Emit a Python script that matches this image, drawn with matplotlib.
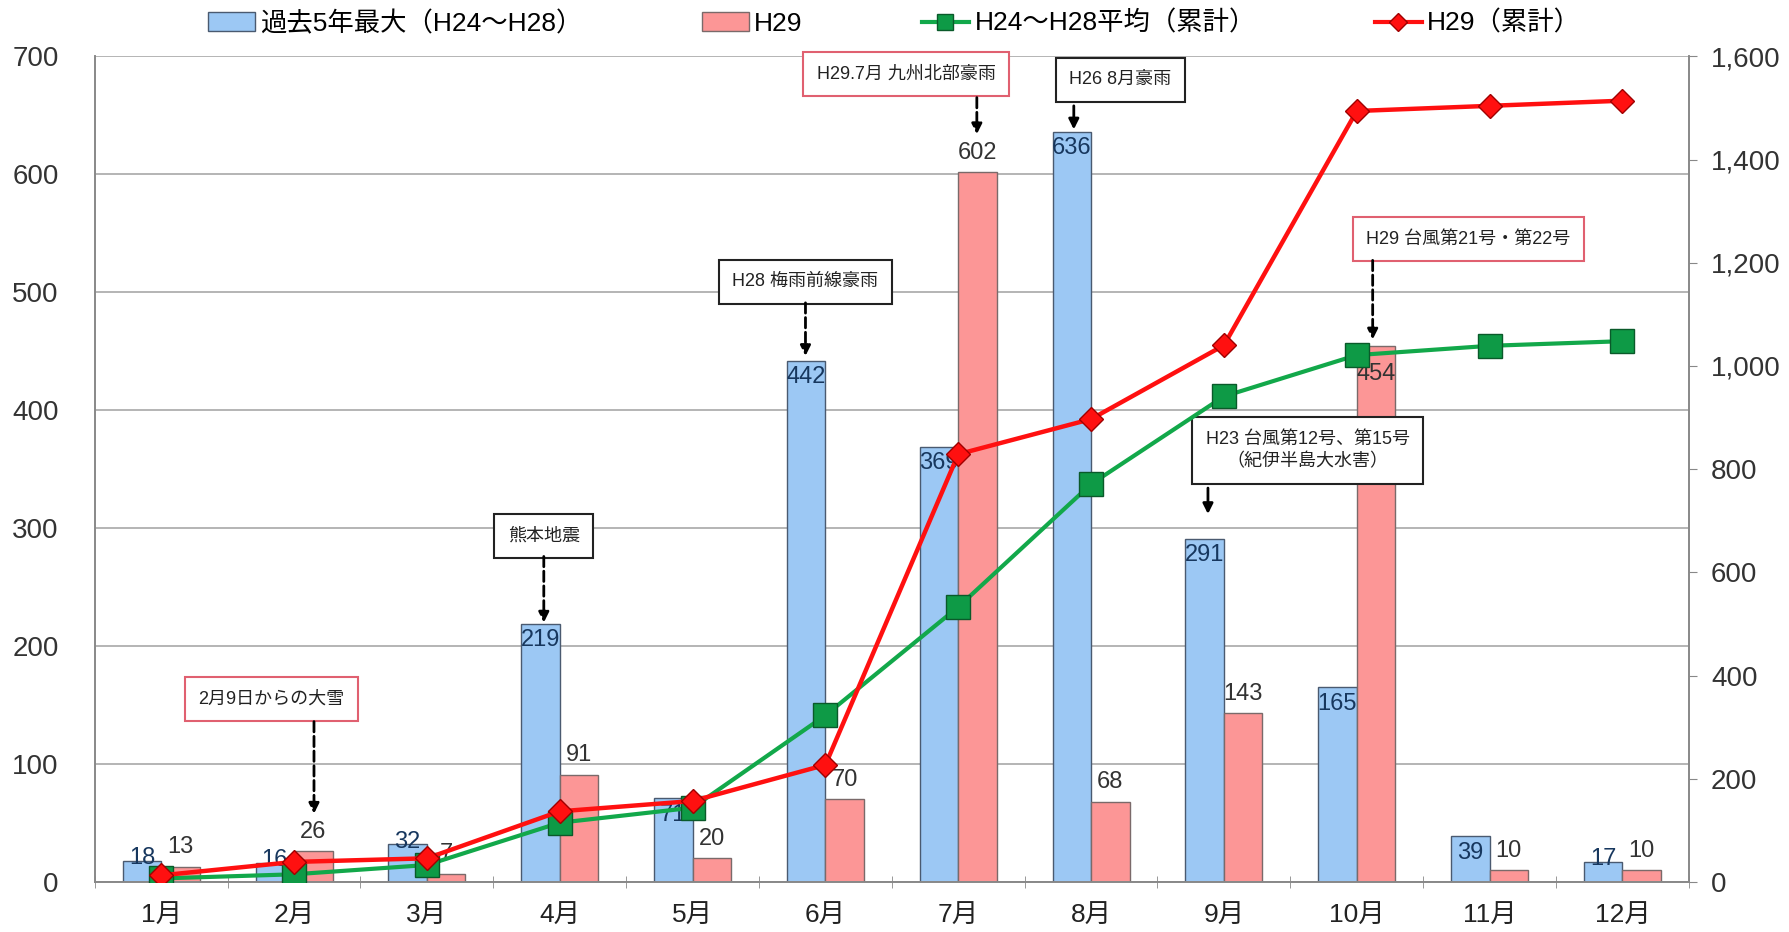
import numpy as np
import matplotlib.pyplot as plt
from matplotlib.patches import Patch
from matplotlib.lines import Line2D
from matplotlib.ticker import FuncFormatter

plt.rcParams['font.family'] = ['Liberation Sans', 'Noto Sans CJK JP', 'DejaVu Sans']

# 月別データ
months = ['1月', '2月', '3月', '4月', '5月', '6月', '7月', '8月', '9月', '10月', '11月', '12月']
max_5yr = [18, 16, 32, 219, 71, 442, 369, 636, 291, 165, 39, 17]      # 過去5年最大(H24~H28)
h29 = [13, 26, 7, 91, 20, 70, 602, 68, 143, 454, 10, 10]              # H29
avg_cum = [7, 15, 33, 115, 144, 323, 533, 771, 941, 1021, 1039, 1048]  # H24~H28平均(累計)
h29_cum = [13, 39, 46, 137, 157, 227, 829, 897, 1040, 1494, 1504, 1514]  # H29(累計)

# 注記: (テキスト, 箱の中心x, 箱の中心y, 矢印x, 矢印の始点y, 終点y, 枠色, 破線か)
notes = [
    ('2月9日からの大雪', 0.83, 155, 1.15, 136, 58, '#E06070', True),
    ('熊本地震', 2.88, 293, 2.88, 276, 220, '#222222', True),
    ('H28 梅雨前線豪雨', 4.85, 509, 4.85, 491, 446, '#222222', True),
    ('H29.7月 九州北部豪雨', 5.61, 685, 6.14, 665, 634, '#E06070', True),
    ('H26 8月豪雨', 7.22, 680, 6.87, 658, 638, '#222222', False),
    ('H29 台風第21号・第22号', 9.84, 545, 9.12, 527, 460, '#E06070', True),
    ('H23 台風第12号、第15号\n（紀伊半島大水害）', 8.63, 366, 7.88, 334, 312, '#222222', False),
]

fig = plt.figure(figsize=(17.89, 9.32), dpi=100)
ax = fig.add_axes([0.053, 0.0536, 0.891, 0.886])
ax2 = ax.twinx()

x = np.arange(len(months))
w = 0.29
ax.bar(x - w / 2, max_5yr, w, color='#9CC8F4', edgecolor='#4A5A70', linewidth=1)
ax.bar(x + w / 2, h29, w, color='#FC9696', edgecolor='#7A6A6A', linewidth=1)

# 棒のラベル
for xi, v in zip(x - w / 2, max_5yr):
    if v >= 35:
        ax.annotate(str(v), (xi, v), xytext=(0, -4), textcoords='offset points',
                    ha='center', va='top', fontsize=17, color='#17375E')
    else:
        ax.annotate(str(v), (xi, v), xytext=(0, 2), textcoords='offset points',
                    ha='center', va='center', fontsize=17, color='#17375E')
for xi, v in zip(x + w / 2, h29):
    if v == 454:
        ax.annotate(str(v), (xi, v), xytext=(0, -12), textcoords='offset points',
                    ha='center', va='top', fontsize=17, color='#333333')
    else:
        ax.annotate(str(v), (xi, v), xytext=(0, 6), textcoords='offset points',
                    ha='center', va='bottom', fontsize=17, color='#333333')

# 累計の折れ線
ax2.plot(x, avg_cum, color='#12A84A', lw=3, marker='s', markersize=17,
         markerfacecolor='#0E9A46', markeredgecolor='#0A5A2A', markeredgewidth=1, zorder=5)
ax2.plot(x, h29_cum, color='#FF1010', lw=3.2, marker='D', markersize=12,
         markerfacecolor='#FF1010', markeredgecolor='#A00000', markeredgewidth=1, zorder=6)

ax.set_xlim(-0.5, 11.5)
ax.set_ylim(0, 700)
ax2.set_ylim(0, 1600)
ax.set_yticks(range(0, 701, 100))
ax2.set_yticks(range(0, 1601, 200))
ax2.yaxis.set_major_formatter(FuncFormatter(lambda v, p: f'{int(v):,}'))
ax.set_xticks(x)
ax.set_xticklabels(months)
ax.set_xticks(np.arange(-0.5, 12, 1), minor=True)
ax.tick_params(axis='x', which='major', length=0, labelsize=19, pad=16, colors='#222222')
ax.tick_params(axis='x', which='minor', length=8, direction='inout', color='#888888')
ax.tick_params(axis='y', length=0, labelsize=20, pad=26, colors='#333333')
ax2.tick_params(axis='y', length=6, direction='out', labelsize=20, pad=10, colors='#333333',
                color='#888888')

ax.grid(axis='y', color='#A8A8A8', lw=1.2)
ax.set_axisbelow(True)
for a in (ax, ax2):
    a.spines['top'].set_visible(False)
    for s in ('left', 'right', 'bottom'):
        a.spines[s].set_color('#888888')
        a.spines[s].set_linewidth(1.2)

# 注記ボックスと矢印
for text, bx, by, axx, y0, y1, ec, dashed in notes:
    ax.text(bx, by, text, ha='center', va='center', fontsize=13, color='#222222', zorder=8,
            linespacing=1.4,
            bbox=dict(boxstyle='square,pad=0.75', fc='white', ec=ec, lw=1.5))
    ax.annotate('', xy=(axx, y1), xytext=(axx, y0), zorder=8,
                arrowprops=dict(arrowstyle='-|>,head_length=0.6,head_width=0.3', color='black',
                                lw=2, linestyle='--' if dashed else '-', shrinkA=0, shrinkB=0))

handles = [
    Patch(facecolor='#9CC8F4', edgecolor='#4A5A70'),
    Patch(facecolor='#FC9696', edgecolor='#7A6A6A'),
    Line2D([], [], color='#12A84A', lw=3, marker='s', markersize=12,
           markerfacecolor='#0E9A46', markeredgecolor='#0A5A2A'),
    Line2D([], [], color='#FF1010', lw=3, marker='D', markersize=9,
           markerfacecolor='#FF1010', markeredgecolor='#A00000'),
]
labels = ['過去5年最大（H24～H28）', 'H29', 'H24～H28平均（累計）', 'H29（累計）']
fig.legend(handles, labels, loc='center', bbox_to_anchor=(0.5, 0.975), ncol=4, frameon=False,
           fontsize=19, handlelength=1.8, handletextpad=0.2, columnspacing=4.5)

fig.savefig('out.png', dpi=100)
